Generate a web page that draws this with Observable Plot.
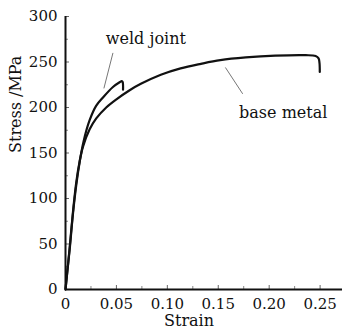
<!DOCTYPE html>
<html><head><meta charset="utf-8">
<script src="https://cdn.jsdelivr.net/npm/d3@7"></script>
<script src="https://cdn.jsdelivr.net/npm/@observablehq/plot@0.6"></script>
<style>body{margin:0;background:#fff;}</style>
</head><body><div id="chart"></div>
<script>
// base metal curve
const baseStrain = [0, 0.002, 0.0041, 0.0074, 0.0106, 0.0139, 0.0172, 0.0237, 0.0302, 0.04, 0.05, 0.063, 0.074, 0.0936, 0.113, 0.133, 0.152, 0.177, 0.206, 0.236, 0.2456, 0.2485, 0.2494, 0.2497];
const baseStress = [0, 22, 46, 86, 118, 141, 157, 176, 188, 200, 209, 219, 226, 236, 243, 248, 252, 255, 257, 257.5, 256.5, 254, 249, 239];
// weld joint curve
const weldStrain = [0, 0.002, 0.0041, 0.0074, 0.0106, 0.0139, 0.0178, 0.0237, 0.0302, 0.0368, 0.0466, 0.0535, 0.0552, 0.0561, 0.0565];
const weldStress = [0, 22, 44, 84, 115, 140, 163, 186, 202, 211, 222.5, 228, 229, 228, 219.5];

const xTicks = [0, 0.05, 0.10, 0.15, 0.20, 0.25];
const xTickLabels = ["0", "0.05", "0.10", "0.15", "0.20", "0.25"];
const xMinor = [0.025, 0.075, 0.125, 0.175, 0.225];
const yTicks = [0, 50, 100, 150, 200, 250, 300];
const yMinor = [25, 75, 125, 175, 225, 275];

const labelNames = ["weld joint", "base metal"];
const labelStrain = [0.0789, 0.2138];
const labelStress = [275.6, 194.3];
// leader lines
const leaderX1 = [0.0466, 0.157];
const leaderY1 = [260, 244];
const leaderX2 = [0.0377, 0.174];
const leaderY2 = [221, 215];

const base = baseStrain.map((s, i) => ({strain: s, stress: baseStress[i]}));
const weld = weldStrain.map((s, i) => ({strain: s, stress: weldStress[i]}));
const labels = labelNames.map((t, i) => ({t, x: labelStrain[i], y: labelStress[i]}));
const leaders = leaderX1.map((x1, i) => ({x1, y1: leaderY1[i], x2: leaderX2[i], y2: leaderY2[i]}));

const font = "'DejaVu Serif', serif";
const chart = Plot.plot({
  width: 342, height: 336,
  marginLeft: 65, marginRight: 0, marginTop: 16, marginBottom: 47,
  style: {fontFamily: font, fontSize: "15px", background: "#fff", color: "#111"},
  x: {domain: [0, 0.272]},
  y: {domain: [0, 300]},
  marks: [
    Plot.axisX({ticks: xTicks, tickFormat: (d, i) => xTickLabels[i], tickSize: 0, tickPadding: 9, label: null, fontSize: 15}),
    Plot.axisY({ticks: yTicks, tickSize: 0, tickPadding: 8, label: null, fontSize: 15}),
    // inward ticks
    Plot.ruleX(xTicks.slice(1), {x: d => d, y1: 0, y2: 0, insetTop: -4, stroke: "#666"}),
    Plot.ruleX(xMinor, {x: d => d, y1: 0, y2: 0, insetTop: -3, stroke: "#888"}),
    Plot.ruleY(yTicks.slice(1), {y: d => d, x1: 0, x2: 0, insetRight: -4, stroke: "#666"}),
    Plot.ruleY(yMinor, {y: d => d, x1: 0, x2: 0, insetRight: -3, stroke: "#888"}),
    Plot.ruleY([0], {stroke: "#111", strokeWidth: 2}),
    Plot.ruleX([0], {stroke: "#111", strokeWidth: 2}),
    Plot.line(base, {x: "strain", y: "stress", stroke: "#111", strokeWidth: 2.2, curve: "catmull-rom"}),
    Plot.line(weld, {x: "strain", y: "stress", stroke: "#111", strokeWidth: 2.2, curve: "catmull-rom"}),
    Plot.link(leaders, {x1: "x1", y1: "y1", x2: "x2", y2: "y2", stroke: "#777", strokeWidth: 1}),
    Plot.text(labels, {x: "x", y: "y", text: "t", fontSize: 16, fill: "#111"}),
    Plot.text(["Strain"], {frameAnchor: "bottom", dx: -15, dy: 36, fontSize: 16, fill: "#111"}),
    Plot.text(["Stress /MPa"], {frameAnchor: "left", rotate: -90, dx: -50, fontSize: 16, fill: "#111"})
  ]
});
document.getElementById("chart").append(chart);
</script>
</body></html>
